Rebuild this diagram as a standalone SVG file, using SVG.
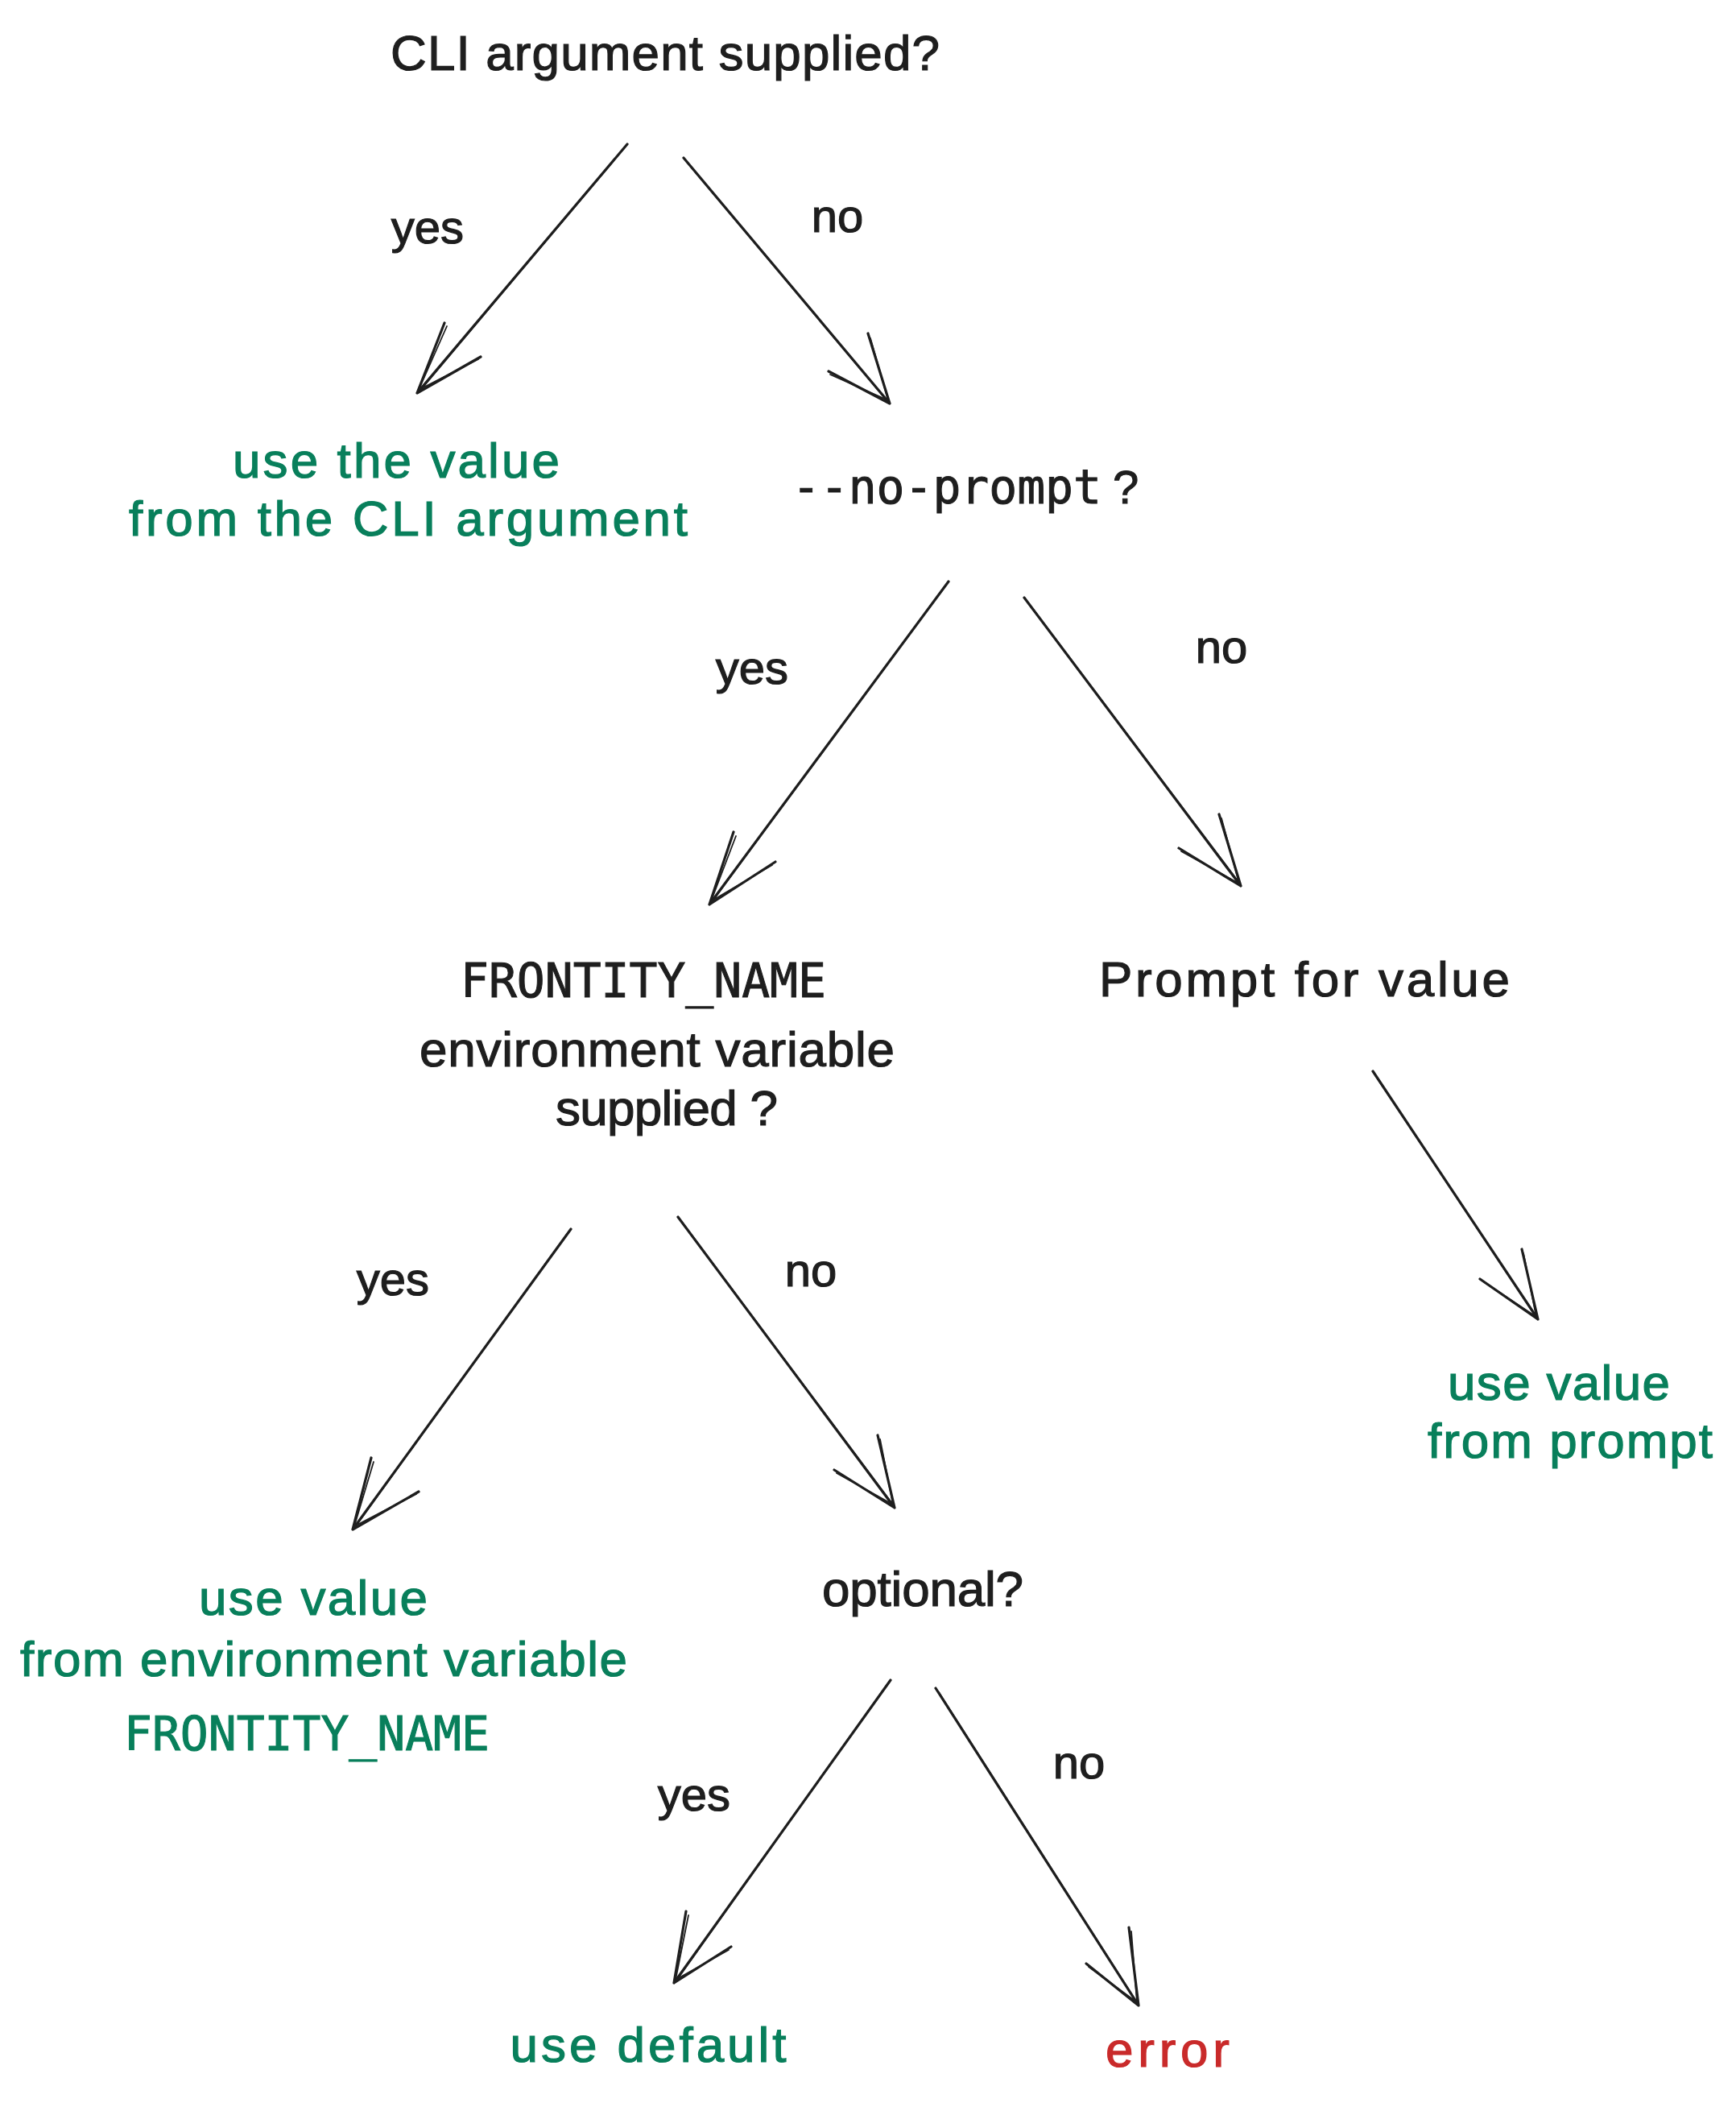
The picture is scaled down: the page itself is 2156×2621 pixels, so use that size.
<svg xmlns="http://www.w3.org/2000/svg" width="2156" height="2621" viewBox="0 0 2156 2621">
<style>
.bg{fill:#ffffff}
.hand{font-family:"Liberation Sans","DejaVu Sans",sans-serif;font-size:62px;fill:#1e1e1e;stroke:#1e1e1e;stroke-width:1.2px;text-anchor:middle}
.mono{font-family:"DejaVu Sans Mono","Liberation Mono",monospace;font-size:58px;fill:#1e1e1e;stroke:#1e1e1e;stroke-width:1px;text-anchor:middle}
.green{fill:#087f5b;stroke:#087f5b}
.red{fill:#c92a2a;stroke:#c92a2a}
.lbl{font-family:"Liberation Sans","DejaVu Sans",sans-serif;font-size:58px;fill:#1e1e1e;stroke:#1e1e1e;stroke-width:1.2px;text-anchor:middle}
.arr{fill:none;stroke:#1e1e1e;stroke-width:3.2;stroke-linecap:round;stroke-linejoin:round}
.arr2{fill:none;stroke:#1e1e1e;stroke-width:1.8;stroke-linecap:round;stroke-linejoin:round}
</style>
<rect class="bg" x="0" y="0" width="2156" height="2621"/>

<g id="connectors">
  <path class="arr" d="M779 179 L518 488 M552 401 L518 488 L597 443"/>
  <path class="arr2" d="M776 183 L521 486 M555 405 L520 484 L594 446"/>
  <path class="arr" d="M849 196 L1105 501 M1078 414 L1105 501 L1029 461"/>
  <path class="arr2" d="M852 200 L1102 498 M1081 420 L1103 497 L1031 465"/>
  <path class="arr" d="M1178 722 L881 1123 M911 1033 L881 1123 L963 1070"/>
  <path class="arr2" d="M1174 727 L884 1120 M914 1038 L883 1119 L959 1074"/>
  <path class="arr" d="M1272 742 L1541 1100 M1514 1011 L1541 1100 L1464 1053"/>
  <path class="arr2" d="M1276 747 L1539 1096 M1517 1016 L1539 1097 L1467 1057"/>
  <path class="arr" d="M1705 1330 L1910 1638 M1890 1551 L1910 1638 L1838 1588"/>
  <path class="arr2" d="M1708 1335 L1907 1634 M1892 1556 L1908 1635 L1842 1591"/>
  <path class="arr" d="M709 1526 L438 1899 M461 1810 L438 1899 L520 1852"/>
  <path class="arr2" d="M705 1531 L441 1896 M464 1815 L440 1895 L517 1855"/>
  <path class="arr" d="M842 1511 L1111 1872 M1090 1782 L1111 1872 L1036 1825"/>
  <path class="arr2" d="M846 1516 L1109 1868 M1093 1787 L1109 1868 L1039 1829"/>
  <path class="arr" d="M1106 2086 L837 2462 M852 2373 L837 2462 L908 2417"/>
  <path class="arr2" d="M1102 2091 L840 2459 M855 2378 L839 2458 L905 2421"/>
  <path class="arr" d="M1162 2096 L1414 2490 M1402 2393 L1414 2490 L1349 2438"/>
  <path class="arr2" d="M1166 2101 L1412 2486 M1405 2398 L1412 2486 L1352 2442"/>

  <text class="lbl" x="531" y="302">yes</text>
  <text class="lbl" x="1040" y="288">no</text>
  <text class="lbl" x="934" y="849">yes</text>
  <text class="lbl" x="1517" y="823">no</text>
  <text class="lbl" x="488" y="1608">yes</text>
  <text class="lbl" x="1007" y="1597">no</text>
  <text class="lbl" x="862" y="2248">yes</text>
  <text class="lbl" x="1340" y="2208">no</text>
</g>

<g id="node-cli">
  <text class="hand" x="826" y="87" textLength="682">CLI argument supplied?</text>
</g>
<g id="node-use-cli">
  <text class="hand green" x="492" y="593" textLength="406">use the value</text>
  <text class="hand green" x="507" y="665" textLength="694">from the CLI argument</text>
</g>
<g id="node-no-prompt">
  <text class="mono" x="1199" y="625"><tspan>--no-prompt</tspan><tspan font-family="Liberation Sans, sans-serif" dx="14">?</tspan></text>
</g>
<g id="node-env">
  <text class="mono" x="799" y="1238">FRONTITY_NAME</text>
  <text class="hand" x="816" y="1324" textLength="590">environment variable</text>
  <text class="hand" x="828" y="1397" textLength="276">supplied ?</text>
</g>
<g id="node-prompt">
  <text class="hand" x="1620" y="1237" textLength="510">Prompt for value</text>
</g>
<g id="node-use-prompt">
  <text class="hand green" x="1936" y="1738" textLength="276">use value</text>
  <text class="hand green" x="1950" y="1810" textLength="354">from prompt</text>
</g>
<g id="node-use-env">
  <text class="hand green" x="389" y="2005" textLength="284">use value</text>
  <text class="hand green" x="402" y="2081" textLength="754">from environment variable</text>
  <text class="mono green" x="381" y="2173">FRONTITY_NAME</text>
</g>
<g id="node-optional">
  <text class="hand" x="1146" y="1994" textLength="250">optional?</text>
</g>
<g id="node-use-default">
  <text class="hand green" x="805" y="2560" textLength="343">use default</text>
</g>
<g id="node-error">
  <text class="hand red" x="1450" y="2566" textLength="154">error</text>
</g>
</svg>
